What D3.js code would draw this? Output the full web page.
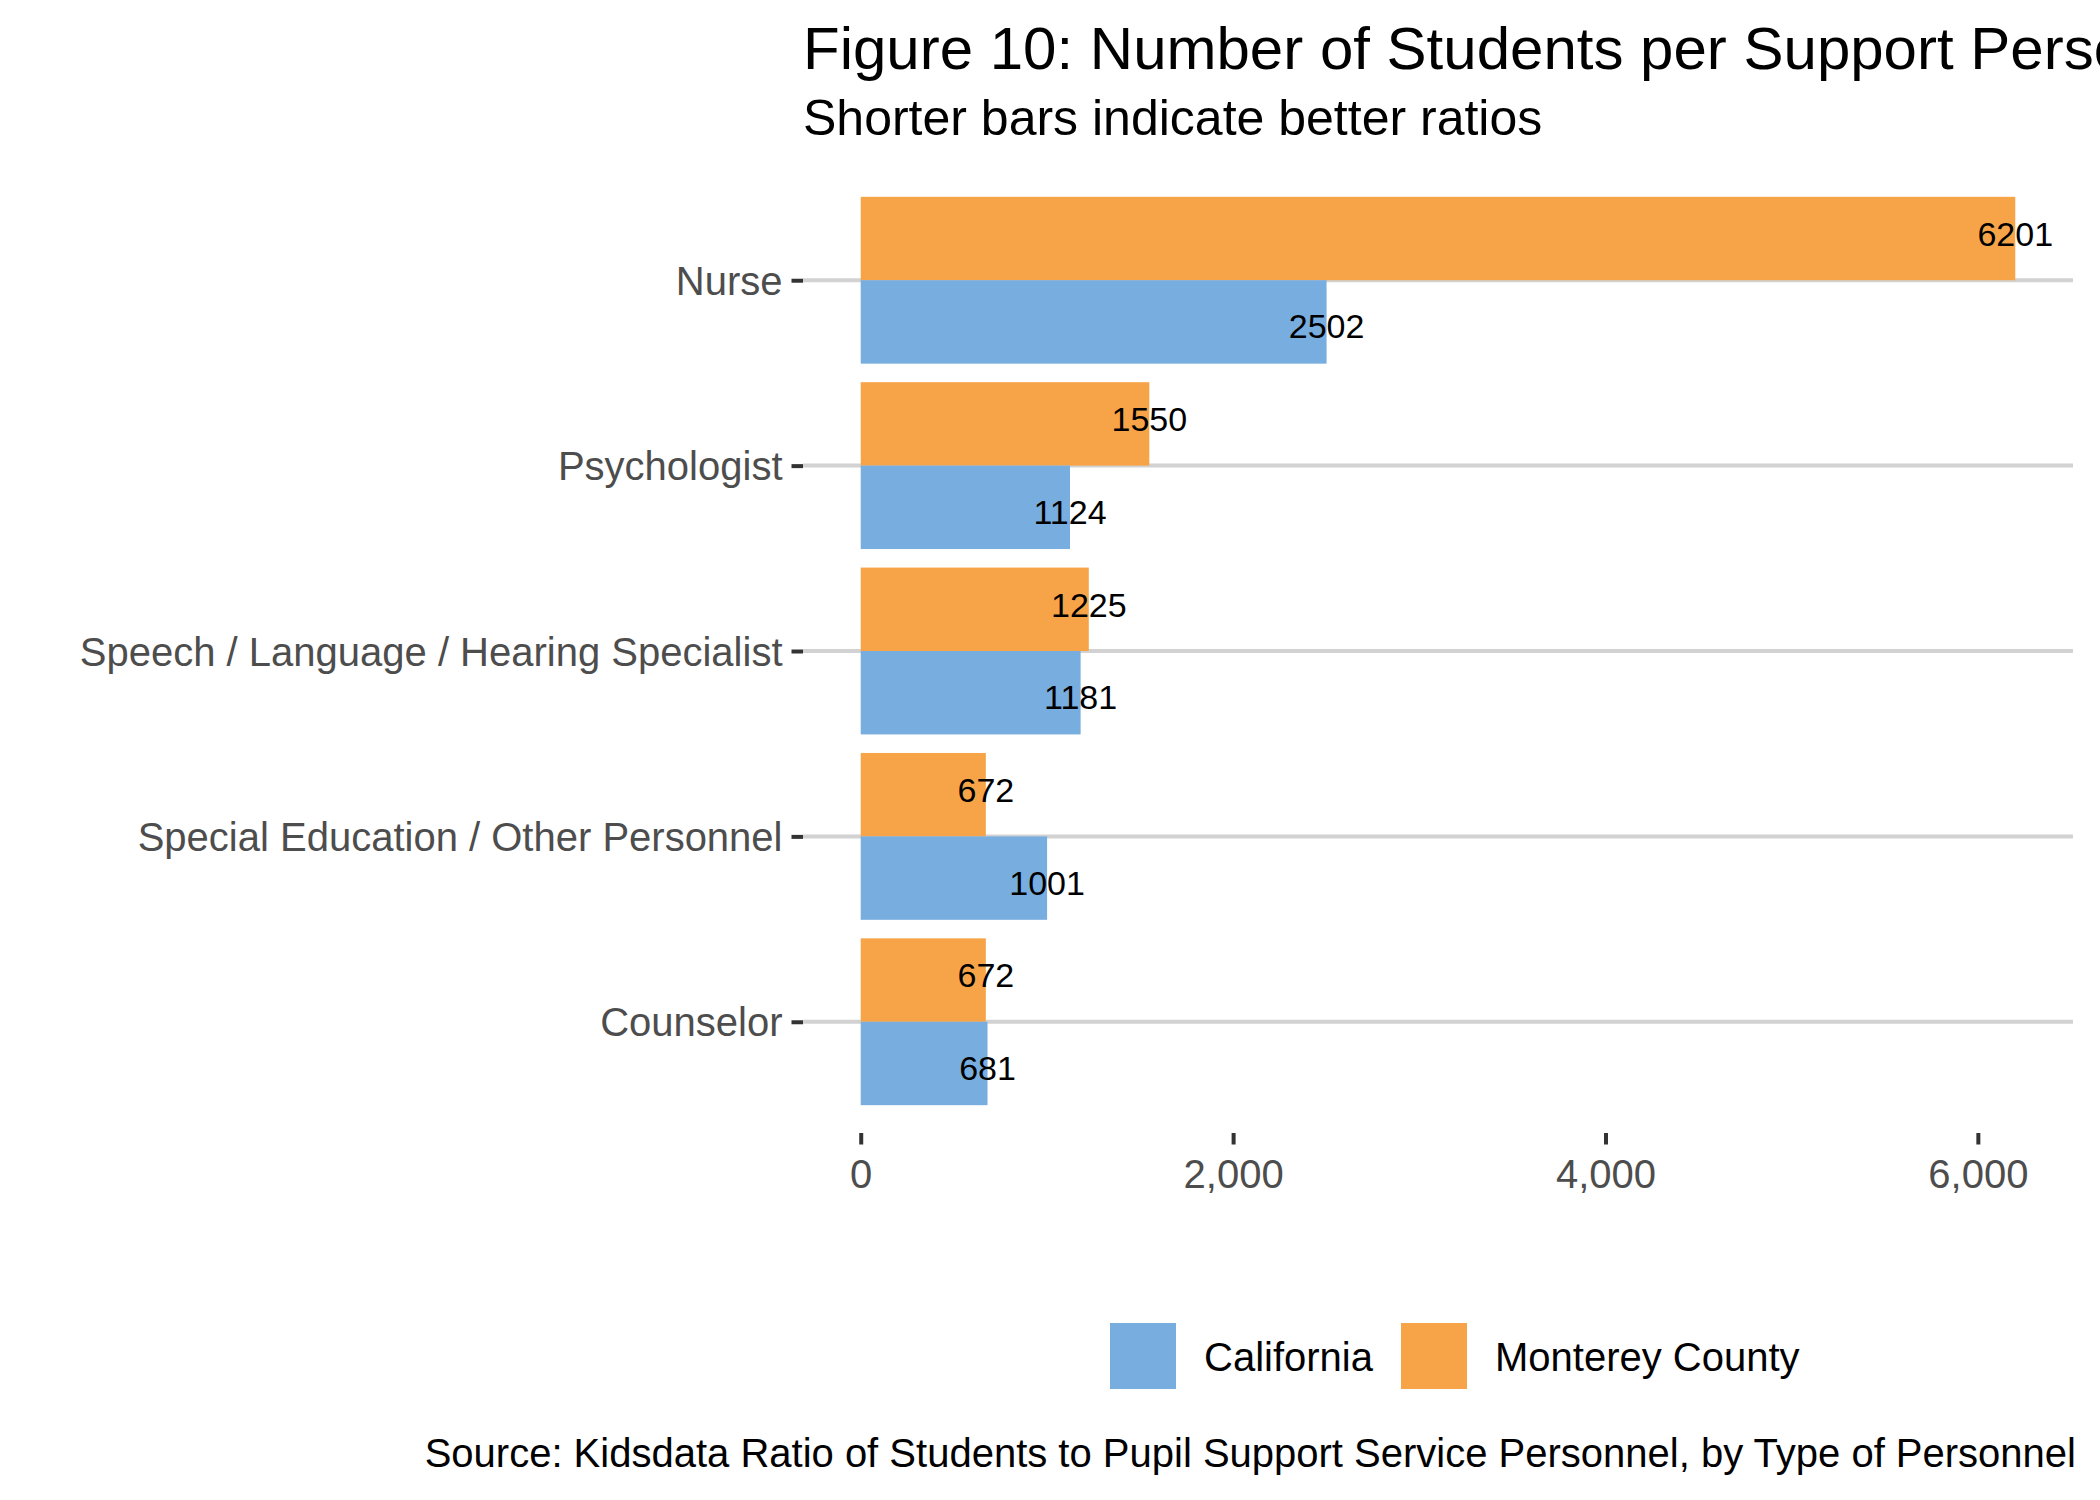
<!DOCTYPE html>
<html>
<head>
<meta charset="utf-8">
<script src="https://cdn.jsdelivr.net/npm/d3@7"></script>
<style>
  html, body { margin: 0; padding: 0; background: #ffffff; }
  svg { display: block; font-family: "Liberation Sans", Arial, Helvetica, sans-serif; }
</style>
</head>
<body>
<svg id="chart" width="2100" height="1500"></svg>
<script>
const categories = ["Nurse", "Psychologist", "Speech / Language / Hearing Specialist", "Special Education / Other Personnel", "Counselor"];
const seriesNames = ["California", "Monterey County"];
const california = [2502, 1124, 1181, 1001, 681];
const monterey = [6201, 1550, 1225, 672, 672];
const xTicks = [0, 2000, 4000, 6000];
const colors = ["#78ADDF", "#F7A449"];

const titleText = "Figure 10: Number of Students per Support Personnel";
const subtitleText = "Shorter bars indicate better ratios";
const captionText = "Source: Kidsdata Ratio of Students to Pupil Support Service Personnel, by Type of Personnel";

const svg = d3.select("#chart");
svg.append("rect").attr("width", 2100).attr("height", 1500).attr("fill", "#ffffff");

const panel = { left: 803, right: 2073, top: 169, bottom: 1133 };

const maxVal = d3.max(monterey.concat(california));
const pad = maxVal * 0.05;
const x = d3.scaleLinear().domain([-pad, maxVal + pad]).range([panel.left, panel.right]);
const y = d3.scalePoint().domain(categories).range([panel.top, panel.bottom]).padding(0.6);
const step = y.step();
const barH = step * 0.45;
const labOff = step * 0.25;

// gridlines (horizontal, at category centers)
svg.append("g").selectAll("line").data(categories).join("line")
  .attr("x1", panel.left).attr("x2", x(maxVal + pad))
  .attr("y1", d => y(d)).attr("y2", d => y(d))
  .attr("stroke", "#D2D2D2").attr("stroke-width", 4);

const rows = categories.map((c, i) => ({ cat: c, vals: [california[i], monterey[i]] }));

// bars: Monterey above center, California below
const barG = svg.append("g");
rows.forEach(r => {
  barG.append("rect")
    .attr("x", x(0)).attr("y", y(r.cat) - barH)
    .attr("width", x(r.vals[1]) - x(0)).attr("height", barH)
    .attr("fill", colors[1]);
  barG.append("rect")
    .attr("x", x(0)).attr("y", y(r.cat))
    .attr("width", x(r.vals[0]) - x(0)).attr("height", barH)
    .attr("fill", colors[0]);
});

// value labels
const labG = svg.append("g").attr("font-size", 34).attr("fill", "#000").attr("text-anchor", "middle");
rows.forEach(r => {
  labG.append("text").attr("x", x(r.vals[1])).attr("y", y(r.cat) - labOff).attr("dy", "0.35em").text(r.vals[1]);
  labG.append("text").attr("x", x(r.vals[0])).attr("y", y(r.cat) + labOff).attr("dy", "0.35em").text(r.vals[0]);
});

// y axis
const yAxis = d3.axisLeft(y).tickSize(11.5).tickPadding(9);
const yg = svg.append("g").attr("transform", `translate(${panel.left},0)`).call(yAxis);
yg.select(".domain").remove();
yg.selectAll(".tick line").attr("stroke", "#333333").attr("stroke-width", 4);
yg.selectAll(".tick text").attr("font-size", 40).attr("fill", "#4D4D4D")
  .attr("font-family", "'Liberation Sans', Arial, Helvetica, sans-serif").attr("dy", "0.35em");

// x axis
const xAxis = d3.axisBottom(x).tickValues(xTicks).tickFormat(d3.format(",")).tickSize(11.5).tickPadding(15);
const xg = svg.append("g").attr("transform", `translate(0,${panel.bottom})`).call(xAxis);
xg.select(".domain").remove();
xg.selectAll(".tick line").attr("stroke", "#333333").attr("stroke-width", 4);
xg.selectAll(".tick text").attr("font-size", 40).attr("fill", "#4D4D4D")
  .attr("font-family", "'Liberation Sans', Arial, Helvetica, sans-serif");

// title & subtitle
svg.append("text").attr("x", 803).attr("y", 69).attr("font-size", 60).attr("fill", "#000").text(titleText);
svg.append("text").attr("x", 803).attr("y", 135).attr("font-size", 50).attr("fill", "#000").text(subtitleText);

// legend
const legendItems = [
  { name: seriesNames[0], color: colors[0], kx: 1110, tx: 1204 },
  { name: seriesNames[1], color: colors[1], kx: 1401, tx: 1495 }
];
const lg = svg.append("g");
legendItems.forEach(li => {
  lg.append("rect").attr("x", li.kx).attr("y", 1323).attr("width", 66).attr("height", 66).attr("fill", li.color);
  lg.append("text").attr("x", li.tx).attr("y", 1371).attr("font-size", 40).attr("fill", "#000").text(li.name);
});

// caption
svg.append("text").attr("x", 2076).attr("y", 1467).attr("text-anchor", "end")
  .attr("font-size", 40).attr("fill", "#000").text(captionText);
</script>
</body>
</html>
